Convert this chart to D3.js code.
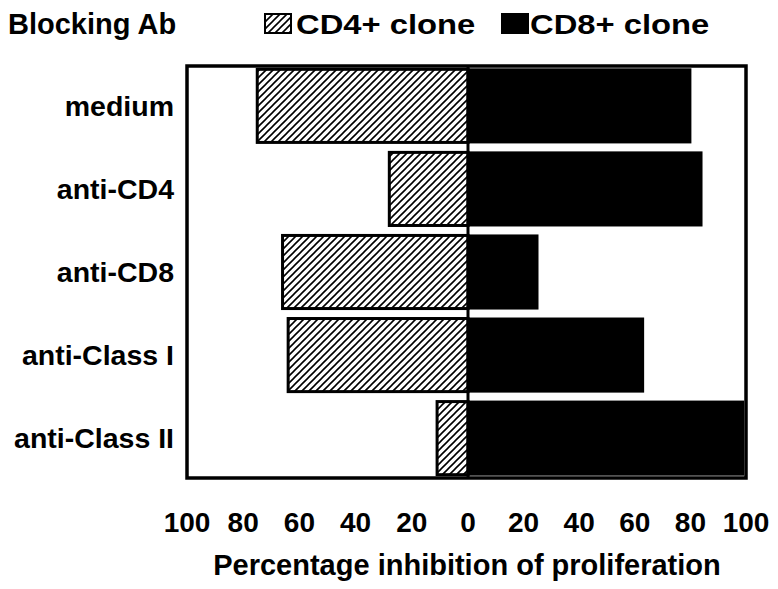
<!DOCTYPE html>
<html>
<head>
<meta charset="utf-8">
<script src="https://cdn.jsdelivr.net/npm/d3@7"></script>
<style>
  html, body { margin: 0; padding: 0; background: #fff; }
  svg text { font-family: "Liberation Sans", Arial, Helvetica, sans-serif; font-weight: bold; fill: #000; }
</style>
</head>
<body>
<svg id="chart" width="778" height="589"></svg>
<script>
const categories = ["medium", "anti-CD4", "anti-CD8", "anti-Class I", "anti-Class II"];
const cd4Values = [75, 28, 66, 64, 11];
const cd8Values = [80, 84, 25, 63, 99];
const tickValues = [-100, -80, -60, -40, -20, 0, 20, 40, 60, 80, 100];
const seriesNames = ["CD4+ clone", "CD8+ clone"];
const titleLeft = "Blocking Ab";
const axisTitle = "Percentage inhibition of proliferation";

const svg = d3.select("#chart");

const defs = svg.append("defs");
const pat = defs.append("pattern")
  .attr("id", "hatch")
  .attr("patternUnits", "userSpaceOnUse")
  .attr("width", 7).attr("height", 7);
pat.append("rect").attr("width", 7).attr("height", 7).attr("fill", "#fff");
pat.append("path")
  .attr("d", "M0,7 L7,0 M-1,1 L1,-1 M6,8 L8,6")
  .attr("stroke", "#000").attr("stroke-width", 1.6);

const pLeft = 187, pRight = 746, pTop = 66, pBottom = 478;

const x = d3.scaleLinear().domain([-100, 0, 100]).range([pLeft, 468, pRight]);
const y = d3.scaleBand().domain(categories).range([pTop, pBottom]).paddingInner(0.12).paddingOuter(0.04);

// box
svg.append("rect")
  .attr("x", pLeft).attr("y", pTop)
  .attr("width", pRight - pLeft).attr("height", pBottom - pTop)
  .attr("fill", "#fff").attr("stroke", "#000").attr("stroke-width", 3.5);

// CD4 bars (negative side, hatched)
svg.append("g").selectAll("rect").data(categories).join("rect")
  .attr("x", (d, i) => x(-cd4Values[i]))
  .attr("y", d => y(d))
  .attr("width", (d, i) => x(0) - x(-cd4Values[i]))
  .attr("height", y.bandwidth())
  .attr("fill", "url(#hatch)")
  .attr("stroke", "#000").attr("stroke-width", 3);

// CD8 bars (positive side, black)
svg.append("g").selectAll("rect").data(categories).join("rect")
  .attr("x", x(0))
  .attr("y", d => y(d))
  .attr("width", (d, i) => x(cd8Values[i]) - x(0))
  .attr("height", y.bandwidth())
  .attr("fill", "#000")
  .attr("stroke", "#000").attr("stroke-width", 2);

// center line
svg.append("line")
  .attr("x1", x(0)).attr("x2", x(0))
  .attr("y1", pTop).attr("y2", pBottom)
  .attr("stroke", "#000").attr("stroke-width", 3);

// category labels
svg.append("g").selectAll("text").data(categories).join("text")
  .attr("x", 174)
  .attr("y", d => y(d) + y.bandwidth() / 2 + 10)
  .attr("text-anchor", "end")
  .attr("font-size", 28.5)
  .text(d => d);

// x tick labels
svg.append("g").selectAll("text").data(tickValues).join("text")
  .attr("x", d => x(d))
  .attr("y", 532)
  .attr("text-anchor", "middle")
  .attr("font-size", 28)
  .text(d => Math.abs(d));

// axis title
svg.append("text")
  .attr("x", 467).attr("y", 575)
  .attr("text-anchor", "middle")
  .attr("font-size", 29)
  .text(axisTitle);

// header
svg.append("text")
  .attr("x", 8).attr("y", 34)
  .attr("font-size", 29)
  .text(titleLeft);

// legend
const legendItems = [
  { name: seriesNames[0], fill: "url(#hatch)", sx: 265, tx: 296 },
  { name: seriesNames[1], fill: "#000", sx: 502, tx: 530 }
];
const lg = svg.append("g");
lg.selectAll("rect").data(legendItems).join("rect")
  .attr("x", d => d.sx).attr("y", 14)
  .attr("width", 26).attr("height", 19)
  .attr("fill", d => d.fill)
  .attr("stroke", "#000").attr("stroke-width", 2);
lg.selectAll("text").data(legendItems).join("text")
  .attr("transform", d => `translate(${d.tx},34) scale(1.17,1)`)
  .attr("font-size", 28)
  .text(d => d.name);
</script>
</body>
</html>
